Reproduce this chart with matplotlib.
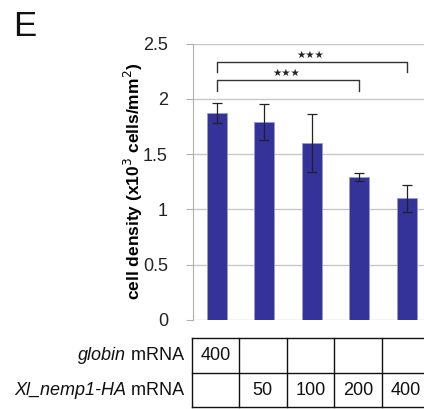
import matplotlib
matplotlib.use("Agg")
import matplotlib.pyplot as plt
import matplotlib.transforms as mtransforms

plt.rcParams['font.family'] = ['Liberation Sans', 'DejaVu Sans']

values = [1.87, 1.79, 1.60, 1.29, 1.10]
errors = [0.09, 0.16, 0.26, 0.035, 0.12]
globin_row = ["400", "", "", "", ""]
nemp_row = ["", "50", "100", "200", "400"]
yticks = [0, 0.5, 1, 1.5, 2, 2.5]
ytick_labels = ["0", "0.5", "1", "1.5", "2", "2.5"]
brackets = [(0, 4, 2.336, 2.246, "★★★"), (0, 3, 2.17, 2.07, "★★★")]

W, H = 424, 409
fig = plt.figure(figsize=(W / 100, H / 100), dpi=100)
ax = fig.add_axes([193 / W, 1 - 320 / H, 1 - 193 / W, (320 - 43.5) / H])

x = list(range(len(values)))
ax.bar(x, values, width=0.42, color='#333399', edgecolor='#9a9ad6', linewidth=0.6, zorder=3)
ax.errorbar(x, values, yerr=errors, fmt='none', ecolor='#222222', elinewidth=0.9,
            capsize=3.5, capthick=0.9, zorder=4)

ax.set_xlim(-0.5, 4.36)
ax.set_ylim(0, 2.5)
ax.set_yticks(yticks)
ax.set_yticklabels(ytick_labels)
ax.set_xticks([])
ax.yaxis.grid(True, color='#c8c8c8', linewidth=1.0, zorder=0)
ax.set_axisbelow(True)
for s in ['top', 'right', 'bottom']:
    ax.spines[s].set_visible(False)
ax.spines['left'].set_color('#b0b0b0')
ax.tick_params(axis='y', length=5, color='#b0b0b0', labelsize=13, pad=13, labelcolor='#222222')
ax.set_ylabel("cell density (x10$^3$ cells/mm$^2$)", fontsize=12.5, fontweight='bold')
ax.yaxis.set_label_coords((145 - 193) / 231, 0.5)

for x0, x1, ytop, ybot, lab in brackets:
    ax.plot([x0, x0, x1, x1], [ybot, ytop, ytop, ybot], color='#333333', lw=1.0, zorder=5, clip_on=False)
    ax.text((x0 + x1) / 2 - 0.04, ytop + 0.06, lab, ha='center', va='center', fontsize=7.5,
            color='#222222', family='DejaVu Sans')

# table below the axes
trans = mtransforms.blended_transform_factory(ax.transData, ax.transAxes)
def yf(py):
    return (320 - py) / (320 - 43.5)
row_lines = [yf(338), yf(372.7), yf(406.7)]
for yy in row_lines:
    ax.plot([-0.53, 4.5], [yy, yy], transform=trans, color='#111111', lw=1.0, clip_on=False)
for xb in [-0.53, 0.47, 1.47, 2.47, 3.47]:
    ax.plot([xb, xb], [row_lines[0], row_lines[2]], transform=trans, color='#111111', lw=1.0, clip_on=False)

ymid1 = yf(355.7)
ymid2 = yf(390.5)
for i, t in enumerate(globin_row):
    ax.text(i - 0.03, ymid1, t, transform=trans, ha='center', va='center', fontsize=13, color='#111111')
for i, t in enumerate(nemp_row):
    ax.text(i - 0.03, ymid2, t, transform=trans, ha='center', va='center', fontsize=13, color='#111111')

# row labels: italic gene name + upright " mRNA"
renderer = fig.canvas.get_renderer()
for gene, py in [("globin", 355.7), ("Xl_nemp1-HA", 390.5)]:
    t2 = fig.text(184 / W, 1 - py / H, " mRNA", ha='right', va='center', fontsize=13, color='#111111')
    bb = t2.get_window_extent(renderer=renderer)
    fig.text(bb.x0 / W, 1 - py / H, gene, ha='right', va='center', fontsize=13,
             style='italic', color='#111111')

fig.text(13 / W, 1 - 27 / H, "E", ha='left', va='center', fontsize=25, color='#111111')

fig.savefig("out.png", dpi=100)
